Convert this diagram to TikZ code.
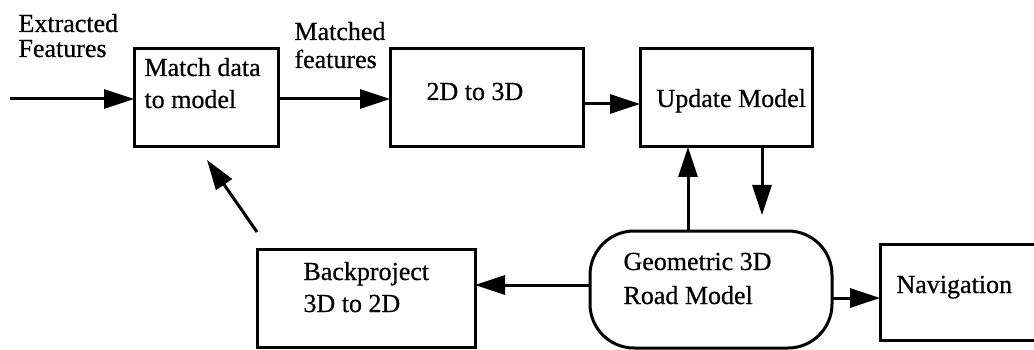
\documentclass[tikz,border=0pt]{standalone}
\usepackage{fontspec}
\setmainfont{Liberation Serif}
\newfontfamily\tfont[FakeBold=0.6]{Liberation Serif}
\usetikzlibrary{arrows.meta}
\begin{document}
\begin{tikzpicture}[x=1pt,y=-1pt,
  line width=3pt,
  box/.style={draw, rectangle, inner sep=0pt, outer sep=0pt},
  rbox/.style={draw, rectangle, rounded corners=44pt, inner sep=0pt, outer sep=0pt},
  txt/.style={anchor=base west, inner sep=0pt, font=\tfont\fontsize{26pt}{30pt}\selectfont},
  arr/.style={-{Triangle[length=30pt,width=19pt]}}]
\clip (0,0) rectangle (1034,350);
\fill[white] (0,0) rectangle (1034,350);
% boxes
\node[box, minimum width=144pt, minimum height=98pt] (match) at (206,98) {};
\node[box, minimum width=193pt, minimum height=98pt] (twod) at (486.5,98) {};
\node[box, minimum width=172pt, minimum height=98pt] (update) at (726,98) {};
\node[box, minimum width=218pt, minimum height=98pt] (back) at (366,298) {};
\node[rbox, minimum width=242pt, minimum height=117pt] (geo) at (711,289.5) {};
\node[box, minimum width=160pt, minimum height=96pt] (nav) at (960,292) {};
% texts
\node[txt] (ex1) at (17,32) {Extracted};
\node[txt] (ex2) at (17,57) {Features};
\node[txt] (ma1) at (143,76) {Match data};
\node[txt] (ma2) at (143,108) {to model};
\node[txt] (mf1) at (293,40) {Matched};
\node[txt] (mf2) at (293,68) {features};
\node[txt] (tt) at (425,100) {2D to 3D};
\node[txt] (um) at (655,107) {Update Model};
\node[txt] (ge1) at (622,270) {Geometric 3D};
\node[txt] (ge2) at (622,304) {Road Model};
\node[txt] (bp1) at (302,280) {Backproject};
\node[txt] (bp2) at (302,312) {3D to 2D};
\node[txt] (nv) at (895,293) {Navigation};
% free ends
\coordinate (in) at (10,99);
\coordinate (down) at (762,215);
\coordinate (diagA) at (257,232);
\coordinate (diagB) at (207,160);
% connectors
\draw[arr] (in) -- (in -| match.west);
\draw[arr] ([yshift=-1pt]match.east) -- ([yshift=-1pt]twod.west);
\draw[arr] ([yshift=-6pt]twod.east) -- ([yshift=-6pt]update.west);
\draw[arr] ([xshift=36pt]update.south) -- (down);
\draw[arr] ([xshift=-23pt]geo.north) -- ([xshift=-38pt]update.south);
\draw[arr] ([yshift=4.5pt]geo.west) -- ([yshift=13pt]back.east);
\draw[arr] ([yshift=-8.5pt]geo.east) -- ([yshift=-6pt]nav.west);
\draw[arr] (diagA) -- (diagB);
\end{tikzpicture}
\end{document}
